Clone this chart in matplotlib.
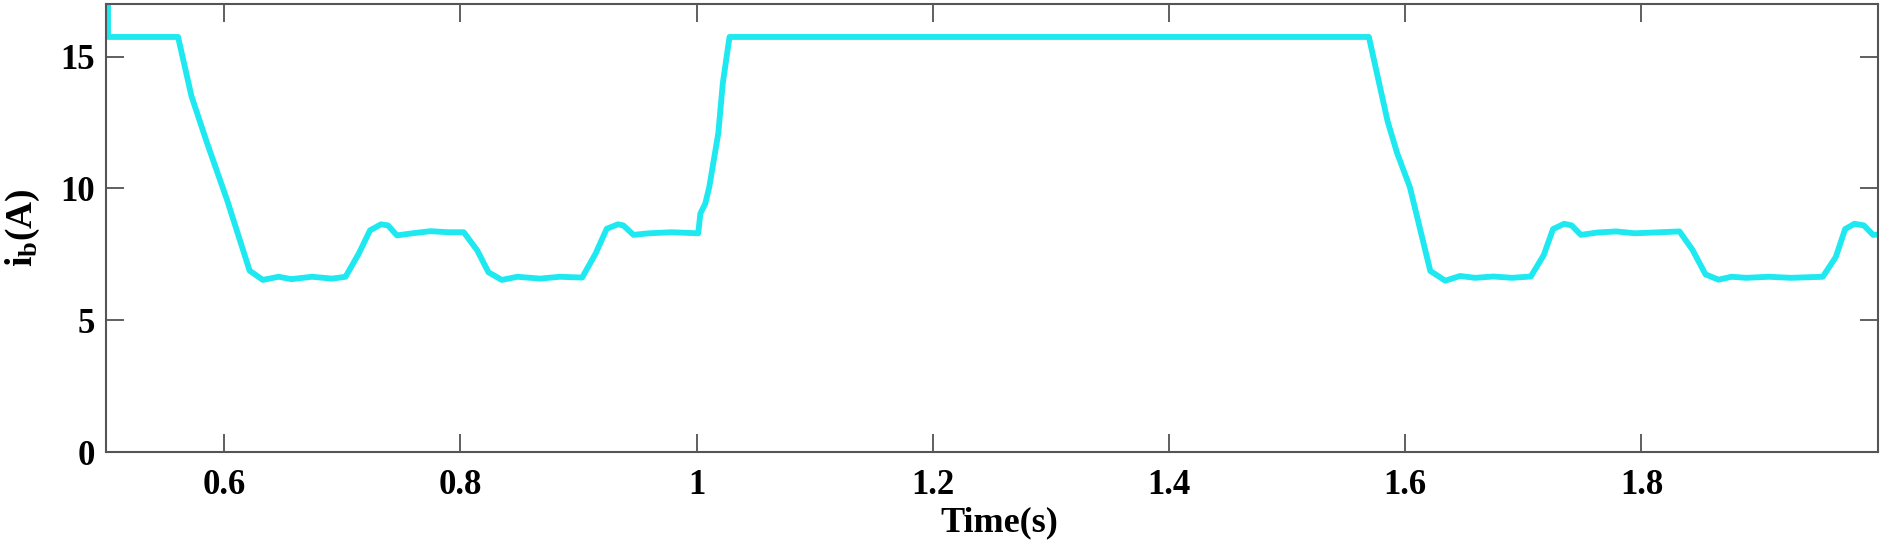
import matplotlib
matplotlib.use("Agg")
import matplotlib.pyplot as plt

# battery current trace
time_s = [0.5, 0.5017, 0.5017, 0.561, 0.5724, 0.5856, 0.6026, 0.6216, 0.6328,
          0.646, 0.657, 0.6744, 0.6913, 0.7028,
          0.714, 0.7235, 0.7328, 0.7387, 0.7463, 0.7595, 0.7746, 0.7897, 0.8029,
          0.8143, 0.8238, 0.8351, 0.8483, 0.8675, 0.8842, 0.9031,
          0.9145, 0.9239, 0.9334, 0.9379, 0.9466, 0.9598, 0.9787, 1.0014,
          1.0032, 1.0074, 1.0108, 1.0184, 1.0222, 1.0279,
          1.5692, 1.585, 1.5929, 1.6039, 1.6212, 1.6339, 1.6464, 1.659, 1.6748,
          1.6904, 1.7063,
          1.7172, 1.7251, 1.7345, 1.7408, 1.7487, 1.7629, 1.7786, 1.7944, 1.8322,
          1.8432, 1.8542, 1.8652, 1.8762, 1.8888, 1.9077, 1.9266, 1.9535,
          1.9645, 1.9724, 1.9803, 1.9882, 1.9961, 2.0]
i_b = [18.0, 18.0, 15.75, 15.75, 13.5, 11.72, 9.55, 6.88, 6.53,
       6.65, 6.56, 6.65, 6.58, 6.65,
       7.53, 8.41, 8.64, 8.6, 8.22, 8.3, 8.38, 8.34, 8.34,
       7.65, 6.82, 6.53, 6.65, 6.58, 6.65, 6.62,
       7.53, 8.47, 8.64, 8.6, 8.24, 8.3, 8.34, 8.3,
       9.05, 9.43, 10.07, 12.1, 14.0, 15.75,
       15.75, 12.56, 11.37, 10.05, 6.87, 6.5, 6.68, 6.61, 6.66,
       6.61, 6.66,
       7.47, 8.46, 8.66, 8.6, 8.24, 8.33, 8.37, 8.3, 8.37,
       7.67, 6.74, 6.54, 6.65, 6.61, 6.65, 6.61, 6.65,
       7.4, 8.46, 8.66, 8.6, 8.24, 8.25]

x_ticks = [0.6, 0.8, 1.0, 1.2, 1.4, 1.6, 1.8]
x_tick_labels = ["0.6", "0.8", "1", "1.2", "1.4", "1.6", "1.8"]
y_ticks = [0, 5, 10, 15]

plt.rcParams["font.family"] = "Liberation Serif"
plt.rcParams["font.weight"] = "bold"
plt.rcParams["mathtext.fontset"] = "custom"
plt.rcParams["mathtext.rm"] = "Liberation Serif:bold"
plt.rcParams["mathtext.it"] = "Liberation Serif:bold"
plt.rcParams["mathtext.bf"] = "Liberation Serif:bold"

fig = plt.figure(figsize=(18.83, 5.44), dpi=100)
ax = fig.add_axes([0.0563, 0.1691, 0.9409, 0.8235])

ax.plot(time_s, i_b, color="#1ee8f0", linewidth=4.2, solid_joinstyle="round")

ax.set_xlim(0.5, 2.0)
ax.set_ylim(0, 17)
ax.set_xticks(x_ticks)
ax.set_xticklabels(x_tick_labels)
ax.set_yticks(y_ticks)

ax.tick_params(direction="in", length=13, width=1.2, color="#444444",
               top=True, right=True, labelsize=25)
ax.tick_params(axis="x", pad=12)
ax.tick_params(axis="y", pad=8)
for side in ax.spines.values():
    side.set_color("#555555")
    side.set_linewidth(1.5)

ax.set_xlabel("Time(s)", fontsize=26, fontweight="bold")
ax.xaxis.set_label_coords(0.504, -0.122)
ax.set_ylabel(r"$\mathrm{i_b(A)}$", fontsize=27)
ax.yaxis.set_label_coords(-0.036, 0.5)

plt.savefig("out.png", dpi=100)
